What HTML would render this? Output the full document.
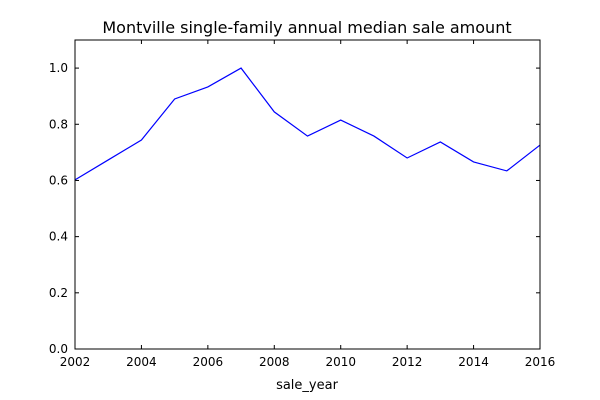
<!DOCTYPE html>
<html><head><meta charset="utf-8"><style>
body{margin:0;background:#fff;}
svg{display:block;font-family:"DejaVu Sans","Liberation Sans",sans-serif;}
</style></head><body>
<svg id="chart" width="600" height="400">
<rect width="600" height="400" fill="#fff"/>
<text x="307" y="33" text-anchor="middle" font-size="16">Montville single-family annual median sale amount</text>
<text x="307" y="389" text-anchor="middle" font-size="13">sale_year</text>
<g id="ticks"></g>
<path id="line" fill="none" stroke="#0000ff" stroke-width="1.2"/>
<rect x="75" y="40" width="465" height="309" fill="none" stroke="#000" stroke-width="1"/>
</svg>
<script>
const years=[2002,2003,2004,2005,2006,2007,2008,2009,2010,2011,2012,2013,2014,2015,2016];
const values=[0.602,0.673,0.744,0.89,0.933,1.0,0.844,0.758,0.815,0.758,0.68,0.737,0.666,0.634,0.726];
const xTicks=[2002,2004,2006,2008,2010,2012,2014,2016];
const yTicks=[0.0,0.2,0.4,0.6,0.8,1.0];
const L=75,R=540,T=40,B=349;
const xs=v=>L+(v-2002)/(2016-2002)*(R-L);
const ys=v=>B-v/1.1*(B-T);
const ns="http://www.w3.org/2000/svg";
const g=document.getElementById('ticks');
function mk(tag,attrs){const e=document.createElementNS(ns,tag);for(const k in attrs)e.setAttribute(k,attrs[k]);g.appendChild(e);return e;}
xTicks.forEach(t=>{
  const x=xs(t);
  const a=mk('line',{x1:x,x2:x,y1:B,y2:B-4,stroke:'#000'});
  
  
  const b=mk('line',{x1:x,x2:x,y1:T,y2:T+4,stroke:'#000'});
  
  
  const tx=mk('text',{x:x,y:B+17,'text-anchor':'middle','font-size':12});
  tx.textContent=t;
  
  
});
yTicks.forEach(t=>{
  const y=ys(t);
  const a=mk('line',{x1:L,x2:L+4,y1:y,y2:y,stroke:'#000'});
  
  
  const b=mk('line',{x1:R,x2:R-4,y1:y,y2:y,stroke:'#000'});
  
  
  const tx=mk('text',{x:L-7,y:y+4,'text-anchor':'end','font-size':12});
  tx.textContent=t.toFixed(1);
  
  
});
document.getElementById('line').setAttribute('d',years.map((y,i)=>(i?'L':'M')+xs(y)+','+ys(values[i])).join(' '));
</script>
</body></html>
